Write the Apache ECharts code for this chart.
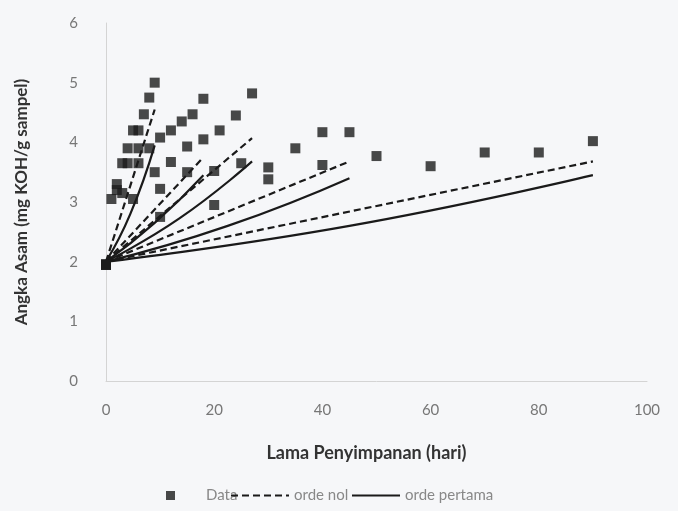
<!DOCTYPE html>
<html>
<head>
<meta charset="utf-8">
<script src="https://cdn.jsdelivr.net/npm/echarts@6/dist/echarts.min.js"></script>
<style>
html,body{margin:0;padding:0;background:#f6f7f9;}
#chart{width:678px;height:511px;}
</style>
</head>
<body>
<div id="chart"></div>
<script>
// Data (days, acid value)
const xTicks = [0, 20, 40, 60, 80, 100];
const yTicks = [0, 1, 2, 3, 4, 5, 6];

const daysE = [0, 1, 2, 3, 4, 5, 6, 7, 8, 9];
const acidE = [1.95, 3.05, 3.3, 3.65, 3.9, 4.2, 4.2, 4.47, 4.75, 5.0];
const daysD = [0, 2, 4, 6, 8, 10, 12, 14, 16, 18];
const acidD = [1.95, 3.2, 3.65, 3.9, 3.9, 4.08, 4.2, 4.35, 4.47, 4.73];
const daysC = [0, 3, 6, 9, 12, 15, 18, 21, 24, 27];
const acidC = [1.95, 3.15, 3.65, 3.5, 3.67, 3.93, 4.05, 4.2, 4.45, 4.82];
const daysB = [0, 5, 10, 15, 20, 25, 30, 35, 40, 45];
const acidB = [1.95, 3.05, 3.22, 3.5, 3.52, 3.65, 3.58, 3.9, 4.17, 4.17];
const daysA = [0, 10, 20, 30, 40, 50, 60, 70, 80, 90];
const acidA = [1.95, 2.75, 2.95, 3.38, 3.62, 3.77, 3.6, 3.83, 3.83, 4.02];

// Fitted lines: [day, value]
const nolE = [[0, 2.0], [9, 4.55]];
const nolD = [[0, 2.0], [18, 3.75]];
const nolC = [[0, 2.0], [27, 4.07]];
const nolB = [[0, 2.0], [45, 3.68]];
const nolA = [[0, 2.0], [90, 3.68]];
const pertE = [[0, 2.0], [4.5, 2.8], [9, 3.95]];
const pertD = [[0, 2.0], [9, 2.65], [18, 3.45]];
const pertC = [[0, 2.0], [13.5, 2.72], [27, 3.68]];
const pertB = [[0, 2.0], [22.5, 2.6], [45, 3.4]];
const pertA = [[0, 2.0], [45, 2.6], [90, 3.45]];

const zip = (xs, ys) => xs.map((x, i) => [x, ys[i]]);
const scatterData = [].concat(
  zip(daysE, acidE), zip(daysD, acidD), zip(daysC, acidC),
  zip(daysB, acidB), zip(daysA, acidA)
);

const FONT = 'Lato';
const chart = echarts.init(document.getElementById('chart'));

const lineSeries = [];
[nolE, nolD, nolC, nolB, nolA].forEach(d => lineSeries.push({
  name: 'orde nol', type: 'line', data: d, symbol: 'none', smooth: false,
  color: '#1a1a1a',
  lineStyle: { color: '#1a1a1a', width: 2.2, type: [7, 4] }, z: 2
}));
[pertE, pertD, pertC, pertB, pertA].forEach(d => lineSeries.push({
  name: 'orde pertama', type: 'line', data: d, symbol: 'none', smooth: true,
  color: '#1a1a1a',
  lineStyle: { color: '#1a1a1a', width: 2.2, type: 'solid' }, z: 2
}));

const legendText = { fontFamily: FONT, fontSize: 15, color: '#888' };
const hiddenSym = { color: 'rgba(0,0,0,0)', borderColor: 'rgba(0,0,0,0)', borderWidth: 0 };

chart.setOption({
  backgroundColor: '#f6f7f9',
  animation: false,
  grid: { left: 106, right: 31, top: 23, bottom: 130, containLabel: false },
  xAxis: {
    type: 'value', min: 0, max: 100, interval: 20,
    name: 'Lama Penyimpanan (hari)', nameLocation: 'middle', nameGap: 63,
    nameTextStyle: { fontFamily: FONT, fontSize: 18, fontWeight: 'bold', color: '#333', padding: [0, 20, 0, 0] },
    axisLine: { show: true, lineStyle: { color: '#d4d4d4', width: 1 } },
    axisTick: { show: false },
    splitLine: { show: false },
    axisLabel: { fontFamily: FONT, fontSize: 15, color: '#777', margin: 22 }
  },
  yAxis: {
    type: 'value', min: 0, max: 6, interval: 1,
    name: 'Angka Asam (mg KOH/g sampel)', nameLocation: 'middle', nameGap: 76, nameRotate: 90,
    nameTextStyle: { fontFamily: FONT, fontSize: 17, fontWeight: 'bold', color: '#333' },
    axisLine: { show: true, lineStyle: { color: '#d4d4d4', width: 1 } },
    axisTick: { show: false },
    splitLine: { show: false },
    axisLabel: { fontFamily: FONT, fontSize: 15, color: '#777', margin: 28 }
  },
  legend: [
    { data: ['Data'], left: 161, top: 483, itemWidth: 9, itemHeight: 9, itemGap: 10,
      textStyle: Object.assign({}, legendText, { padding: [0, 0, 0, 26] }) },
    { data: ['orde nol'], left: 225, top: 483, itemWidth: 58, itemHeight: 12,
      itemStyle: hiddenSym, textStyle: legendText },
    { data: ['orde pertama'], left: 346, top: 483, itemWidth: 48, itemHeight: 12,
      itemStyle: hiddenSym, textStyle: legendText }
  ],
  series: [
    { name: 'Data', type: 'scatter', data: scatterData, symbol: 'rect', symbolSize: 10,
      itemStyle: { color: '#1c1c1c' }, z: 3 }
  ].concat(lineSeries)
});
</script>
</body>
</html>
